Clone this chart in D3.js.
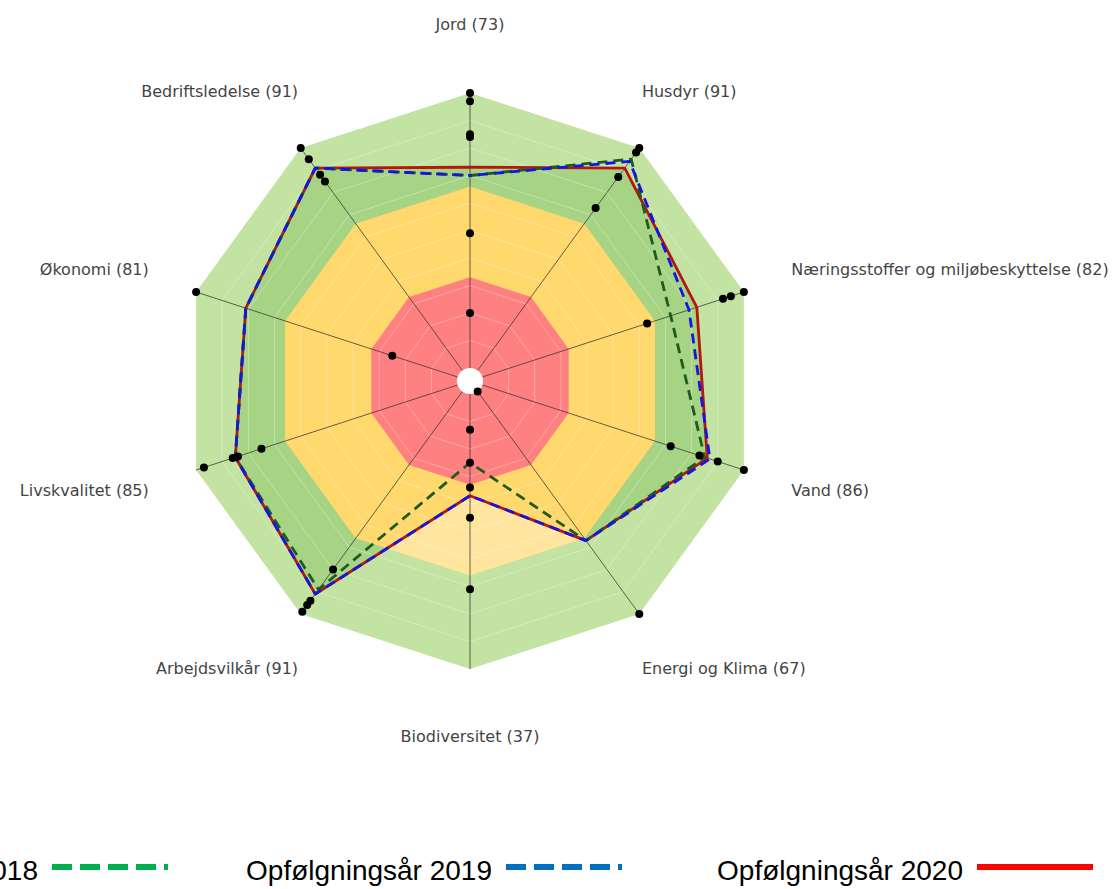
<!DOCTYPE html>
<html lang="da">
<head>
<meta charset="UTF-8">
<title>Radar</title>
<style>
  body { margin: 0; background: #fff; }
  .axis-label { font: 16px "DejaVu Sans", Verdana, sans-serif; fill: #444; }
  .legend text { font: 28px "Liberation Sans Narrow", "Arial Narrow", sans-serif; fill: #000; }
</style>
</head>
<body>
<svg id="chart" width="1120" height="889"></svg>
<script src="https://d3js.org/d3.v7.min.js"></script>
<script>
// kategorier (med uret fra toppen)
const categories = ['Jord', 'Husdyr', 'Næringsstoffer og miljøbeskyttelse', 'Vand', 'Energi og Klima',
  'Biodiversitet', 'Arbejdsvilkår', 'Livskvalitet', 'Økonomi', 'Bedriftsledelse'];

// scorer pr. år
const score2018 = [70, 95, 72, 85, 67, 25, 89, 85, 81, 91];
const score2019 = [70, 94, 79, 87, 67, 37, 91, 85, 81, 91];
const score2020 = [73, 91, 82, 86, 67, 37, 91, 85, 81, 91];

// sorte punkter på hver akse
const axisDots = [
  [100, 97, 85, 84, 49, 20],
  [100, 98, 87, 73],
  [100, 95, 92, 63],
  [100, 90, 83, 72],
  [100, 0],
  [71, 45, 34, 25, 13],
  [99, 96, 94, 80],
  [97, 86, 84, 75],
  [100, 25],
  [100, 95, 88, 85]
];

// zoner: rød / gul / grøn
const zoneLimits = [0, 33, 66, 100];
const gridTicks = [10, 20, 30, 40, 50, 60, 70, 80, 90];

const legendNames = ['Opfølgningsår 2018', 'Opfølgningsår 2019', 'Opfølgningsår 2020'];

const cx = 470, cy = 381;
const svg = d3.select('#chart');
const r = d3.scaleLinear().domain([0, 100]).range([13, 288]);
const n = categories.length;
const angle = i => i * 2 * Math.PI / n;
const pt = (i, v) => [cx + r(v) * Math.sin(angle(i)), cy - r(v) * Math.cos(angle(i))];
const ring = v => d3.range(n).map(i => pt(i, v));
const poly = pts => d3.line().curve(d3.curveLinearClosed)(pts);

// clip til 2020-polygonen
svg.append('defs').append('clipPath').attr('id', 'inside')
  .append('path').attr('d', poly(score2020.map((v, i) => pt(i, v))));

const zoneLight = ['#FF8585', '#FFE59E', '#C2E3A2'];
const zoneDark = ['#FF8080', '#FFD86E', '#A6D484'];

function drawZones(g, colors) {
  // tegn fra yderst og ind
  for (let z = 2; z >= 0; z--) {
    g.append('path').attr('d', poly(ring(zoneLimits[z + 1]))).attr('fill', colors[z]);
  }
}
drawZones(svg.append('g'), zoneLight);
drawZones(svg.append('g').attr('clip-path', 'url(#inside)'), zoneDark);

// gitterlinjer
svg.append('g').selectAll('path').data(gridTicks).join('path')
  .attr('d', d => poly(ring(d)))
  .attr('fill', 'none').attr('stroke', '#fff').attr('stroke-opacity', 0.3).attr('stroke-width', 1);

// akser
svg.append('g').selectAll('line').data(categories).join('line')
  .attr('x1', (d, i) => pt(i, 0)[0]).attr('y1', (d, i) => pt(i, 0)[1])
  .attr('x2', (d, i) => pt(i, 100)[0]).attr('y2', (d, i) => pt(i, 100)[1])
  .attr('stroke', '#333').attr('stroke-opacity', 0.75).attr('stroke-width', 1);

// hul i midten
svg.append('circle').attr('cx', cx).attr('cy', cy).attr('r', r(0)).attr('fill', '#fff');

// serier
const series = [
  { values: score2020, color: '#B5170E', dash: null },
  { values: score2018, color: '#1F5A1F', dash: '10,6' },
  { values: score2019, color: '#1515E0', dash: '10,6', offset: 8 }
];
svg.append('g').selectAll('path').data(series).join('path')
  .attr('d', s => poly(s.values.map((v, i) => pt(i, v))))
  .attr('fill', 'none')
  .attr('stroke', s => s.color)
  .attr('stroke-width', 2.8)
  .attr('stroke-linejoin', 'round')
  .attr('stroke-dasharray', s => s.dash)
  .attr('stroke-dashoffset', s => s.offset || 0);

// punkter
const dotData = axisDots.flatMap((vals, i) => vals.map(v => ({ i, v })));
svg.append('g').selectAll('circle').data(dotData).join('circle')
  .attr('cx', d => pt(d.i, d.v)[0]).attr('cy', d => pt(d.i, d.v)[1])
  .attr('r', 4).attr('fill', '#000');

// akse-etiketter
const labelR = 356;
svg.append('g').selectAll('text').data(categories).join('text')
  .attr('class', 'axis-label')
  .attr('x', (d, i) => {
    const s = Math.sin(angle(i)), c = Math.abs(Math.cos(angle(i)));
    const sign = Math.abs(s) < 0.1 ? 0 : Math.sign(s);
    return cx + labelR * s - sign * (40 * c + 5);
  })
  .attr('y', (d, i) => cy - labelR * Math.cos(angle(i)))
  .attr('dominant-baseline', 'middle')
  .attr('text-anchor', (d, i) => {
    const s = Math.sin(angle(i));
    return Math.abs(s) < 0.1 ? 'middle' : (s > 0 ? 'start' : 'end');
  })
  .text((d, i) => `${d} (${score2020[i]})`);

// legende
const legendItems = [
  { color: '#00B050', dash: '20,8', x: 52 },
  { color: '#0070C0', dash: '20,8', x: 506 },
  { color: '#FF0000', dash: null, x: 977 }
];
const legend = svg.append('g').attr('class', 'legend');
legendItems.forEach((it, k) => {
  legend.append('text').attr('x', it.x - 14).attr('y', 880)
    .attr('text-anchor', 'end').text(legendNames[k]);
  legend.append('line').attr('x1', it.x).attr('x2', it.x + 116)
    .attr('y1', 867).attr('y2', 867)
    .attr('stroke', it.color).attr('stroke-width', 6)
    .attr('stroke-dasharray', it.dash);
});
</script>
</body>
</html>
